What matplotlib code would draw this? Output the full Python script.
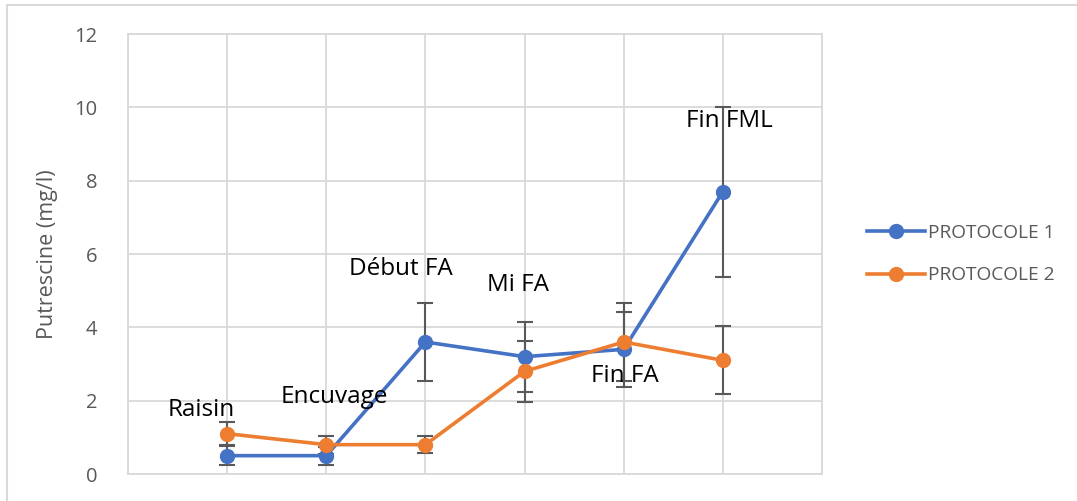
import matplotlib.pyplot as plt
from matplotlib.lines import Line2D
import numpy as np

plt.rcParams['font.family'] = ['Open Sans', 'DejaVu Sans']

# data
stages = ['Raisin', 'Encuvage', 'Début FA', 'Mi FA', 'Fin FA', 'Fin FML']
p1 = [0.5, 0.5, 3.6, 3.2, 3.4, 7.7]
p1_err = [0.26, 0.25, 1.07, 0.95, 1.03, 2.32]
p2 = [1.1, 0.8, 0.8, 2.8, 3.6, 3.1]
p2_err = [0.32, 0.25, 0.24, 0.84, 1.07, 0.93]
series_names = ['PROTOCOLE 1', 'PROTOCOLE 2']

# label offsets (x, y) in data units relative to the category point
label_pos = [(-0.26, 1.75), (0.08, 2.1), (-0.25, 5.59), (-0.07, 5.15),
             (0.01, 2.67), (0.07, 9.63)]

blue = '#4472C4'
orange = '#ED7D31'
grid = '#D9D9D9'
txt = '#595959'

fig = plt.figure(figsize=(10.77, 5.01), dpi=100)
ax = fig.add_axes([128/1077, 1 - 474/501, (822-128)/1077, (474-34)/501])

x = np.arange(1, len(stages) + 1)

ax.errorbar(x, p1, yerr=p1_err, fmt='none', ecolor='#595959',
            elinewidth=1.5, capsize=6, capthick=1.5, zorder=3)
ax.errorbar(x, p2, yerr=p2_err, fmt='none', ecolor='#595959',
            elinewidth=1.5, capsize=6, capthick=1.5, zorder=3)
ax.plot(x, p1, color=blue, lw=2.6, marker='o', ms=10, zorder=4)
ax.plot(x, p2, color=orange, lw=2.6, marker='o', ms=10, zorder=5)

for i, s in enumerate(stages):
    ax.text(label_pos[i][0] + x[i], label_pos[i][1], s, ha='center',
            va='center', fontsize=17.5, color='black', zorder=6)

ax.set_xlim(0, 7)
ax.set_ylim(0, 12)
ax.set_xticks(np.arange(0, 8))
ax.set_xticklabels([])
ax.set_yticks(np.arange(0, 13, 2))
ax.tick_params(axis='both', length=0, labelsize=14.5, labelcolor=txt, pad=22)
ax.grid(True, color=grid, lw=1.3)
for sp in ax.spines.values():
    sp.set_color(grid)
    sp.set_linewidth(1.3)
ax.set_ylabel('Putrescine (mg/l)', fontsize=15.5, color=txt, labelpad=12)

handles = [Line2D([], [], color=blue, lw=2.6, marker='o', ms=10),
           Line2D([], [], color=orange, lw=2.6, marker='o', ms=10)]
leg = fig.legend(handles, series_names, loc='center left',
                 bbox_to_anchor=(850/1077, 1 - 254/501), frameon=False,
                 fontsize=13.8, handlelength=3.0, labelspacing=1.3,
                 handletextpad=0.15)
for t in leg.get_texts():
    t.set_color(txt)

# outer chart border
fig.add_artist(Line2D([7/1077, 1], [1 - 5/501, 1 - 5/501], color=grid, lw=1.5))
fig.add_artist(Line2D([7/1077, 7/1077], [0, 1 - 5/501], color=grid, lw=1.5))

fig.savefig('out.png', dpi=100)
